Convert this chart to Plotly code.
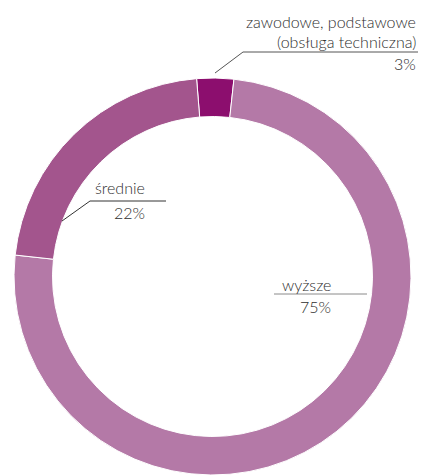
import plotly.graph_objects as go

# Education level shares (%)
categories = ["zawodowe, podstawowe", "wyższe", "średnie"]
subtitles = ["(obsługa techniczna)", "", ""]
shares = [3, 75, 22]
slice_colors = ["#8c0e6e", "#b479a7", "#a3558d"]

W, H = 424, 475
TEXT_COLOR = "#2e2e2e"
FONT = "Lato"
FONT_SIZE = 16


def px(x):
    return x / W


def py(y):
    return 1 - y / H


fig = go.Figure(
    go.Pie(
        labels=categories,
        values=shares,
        sort=False,
        direction="clockwise",
        rotation=-4.6,
        hole=0.806,
        marker=dict(colors=slice_colors, line=dict(color="white", width=1)),
        textinfo="none",
        hoverinfo="label+percent",
        domain=dict(x=[px(14), px(411)], y=[0, 397 / H]),
        showlegend=False,
    )
)

# label layout: right edge, text line centres, underline, elbow end
label_specs = [
    dict(idx=0, right=418, name_y=[21, 41], pct_y=63,
         under=(243, 418, 52), elbow=(215, 73), line_color="#555555"),
    dict(idx=2, right=147, name_y=[188], pct_y=212,
         under=(90, 166, 201), elbow=(62, 221), line_color="#333333"),
    dict(idx=1, right=333, name_y=[284], pct_y=306,
         under=(274, 367, 294), elbow=None, line_color="#8a8a8a"),
]

annotations = []
shapes = []
for spec in label_specs:
    i = spec["idx"]
    name_lines = [categories[i]] + ([subtitles[i]] if subtitles[i] else [])
    for text, yc in zip(name_lines, spec["name_y"]):
        annotations.append(dict(
            text=text, x=px(spec["right"]), y=py(yc), xref="paper", yref="paper",
            xanchor="right", yanchor="middle", showarrow=False,
            font=dict(family=FONT, size=FONT_SIZE, color=TEXT_COLOR, weight=300),
        ))
    annotations.append(dict(
        text=f"{shares[i]}%", x=px(spec["right"]), y=py(spec["pct_y"]),
        xref="paper", yref="paper", xanchor="right", yanchor="middle",
        showarrow=False,
        font=dict(family=FONT, size=FONT_SIZE, color=TEXT_COLOR, weight=300),
    ))
    x0, x1, yu = spec["under"]
    shapes.append(dict(type="line", xref="paper", yref="paper",
                       x0=px(x0), x1=px(x1), y0=py(yu), y1=py(yu),
                       line=dict(color=spec["line_color"], width=1)))
    if spec["elbow"]:
        ex, ey = spec["elbow"]
        shapes.append(dict(type="line", xref="paper", yref="paper",
                           x0=px(x0), y0=py(yu), x1=px(ex), y1=py(ey),
                           line=dict(color=spec["line_color"], width=1)))

fig.update_layout(
    width=W, height=H,
    margin=dict(l=0, r=0, t=0, b=0),
    paper_bgcolor="white", plot_bgcolor="white",
    annotations=annotations, shapes=shapes,
)

fig.write_html("out.html")
